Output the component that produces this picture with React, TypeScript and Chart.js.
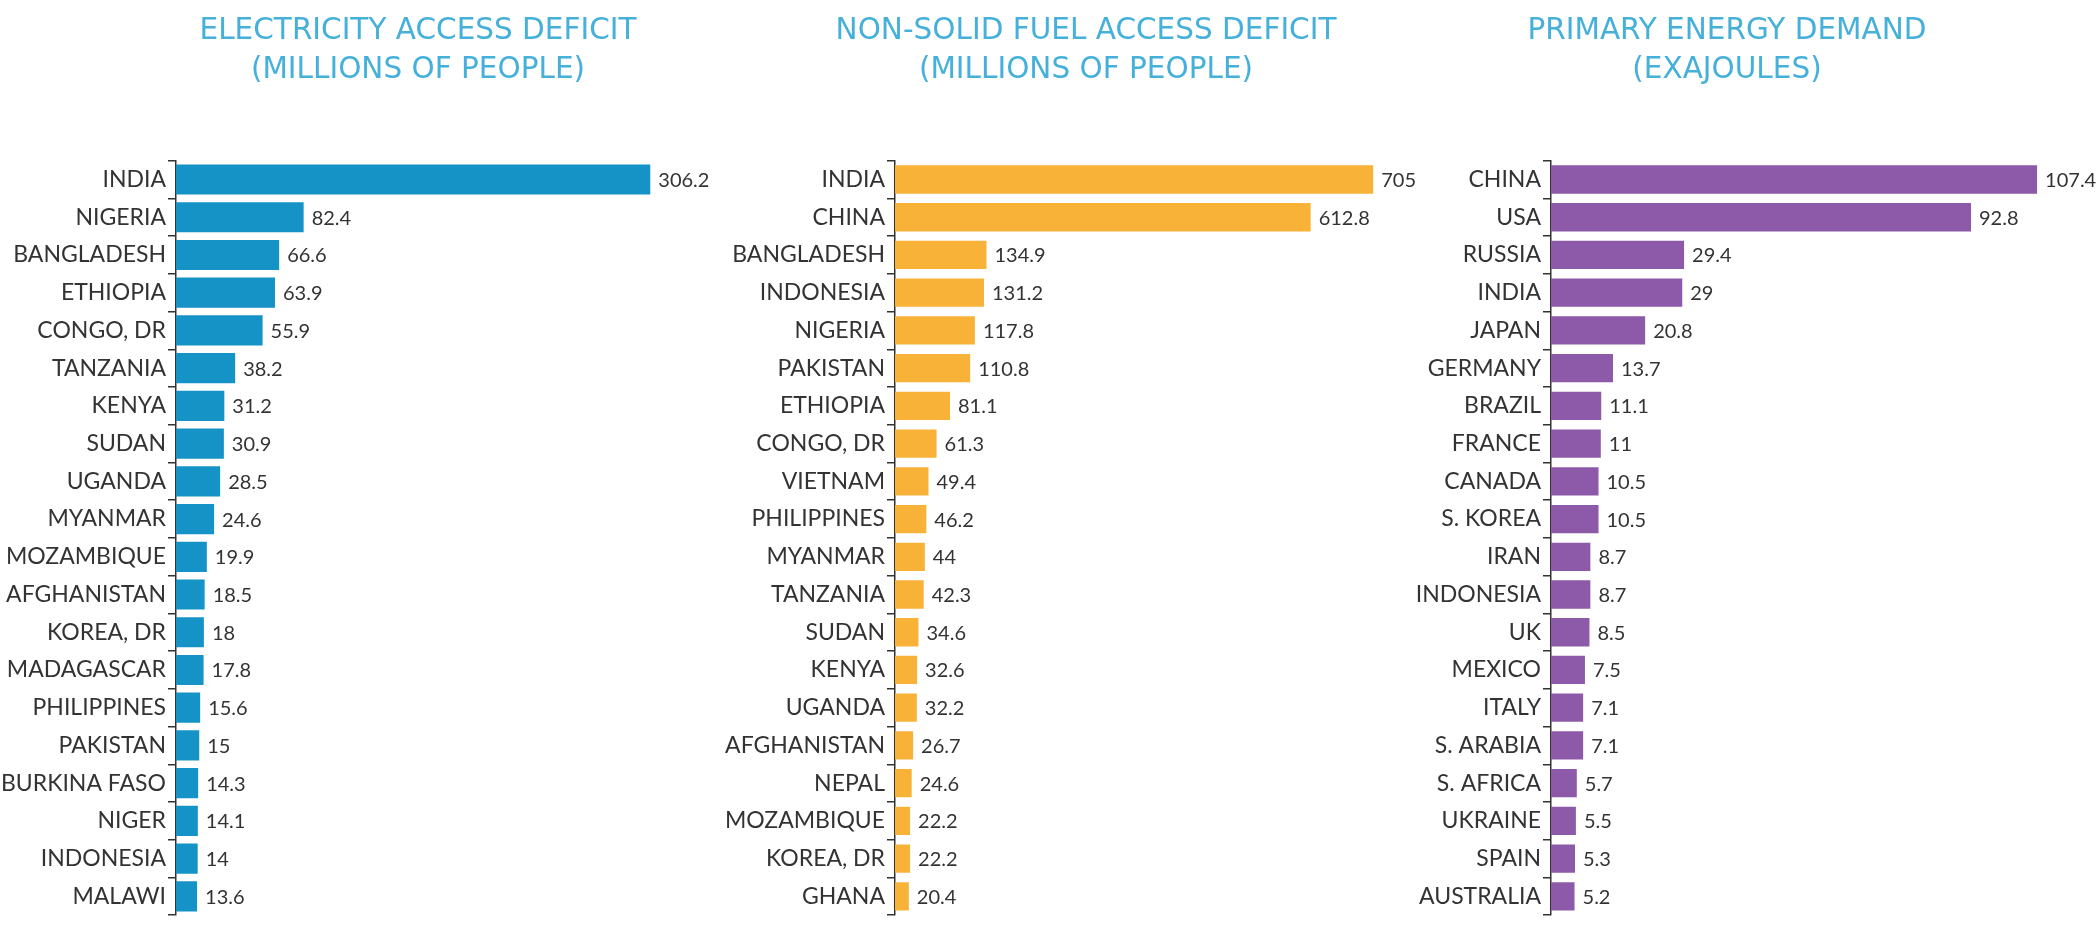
import React, { useEffect, useRef } from "react";
import { Chart, registerables } from "chart.js";

Chart.register(...registerables);

// ---------- DATA ----------
const elecCountries = [
  "INDIA", "NIGERIA", "BANGLADESH", "ETHIOPIA", "CONGO, DR", "TANZANIA", "KENYA", "SUDAN", "UGANDA", "MYANMAR",
  "MOZAMBIQUE", "AFGHANISTAN", "KOREA, DR", "MADAGASCAR", "PHILIPPINES", "PAKISTAN", "BURKINA FASO", "NIGER", "INDONESIA", "MALAWI",
];
const elecValues = [306.2, 82.4, 66.6, 63.9, 55.9, 38.2, 31.2, 30.9, 28.5, 24.6, 19.9, 18.5, 18, 17.8, 15.6, 15, 14.3, 14.1, 14, 13.6];

const fuelCountries = [
  "INDIA", "CHINA", "BANGLADESH", "INDONESIA", "NIGERIA", "PAKISTAN", "ETHIOPIA", "CONGO, DR", "VIETNAM", "PHILIPPINES",
  "MYANMAR", "TANZANIA", "SUDAN", "KENYA", "UGANDA", "AFGHANISTAN", "NEPAL", "MOZAMBIQUE", "KOREA, DR", "GHANA",
];
const fuelValues = [705, 612.8, 134.9, 131.2, 117.8, 110.8, 81.1, 61.3, 49.4, 46.2, 44, 42.3, 34.6, 32.6, 32.2, 26.7, 24.6, 22.2, 22.2, 20.4];

const energyCountries = [
  "CHINA", "USA", "RUSSIA", "INDIA", "JAPAN", "GERMANY", "BRAZIL", "FRANCE", "CANADA", "S. KOREA",
  "IRAN", "INDONESIA", "UK", "MEXICO", "ITALY", "S. ARABIA", "S. AFRICA", "UKRAINE", "SPAIN", "AUSTRALIA",
];
const energyValues = [107.4, 92.8, 29.4, 29, 20.8, 13.7, 11.1, 11, 10.5, 10.5, 8.7, 8.7, 8.5, 7.5, 7.1, 7.1, 5.7, 5.5, 5.3, 5.2];

const elecTitle = ["ELECTRICITY ACCESS DEFICIT", "(MILLIONS OF PEOPLE)"];
const fuelTitle = ["NON-SOLID FUEL ACCESS DEFICIT", "(MILLIONS OF PEOPLE)"];
const energyTitle = ["PRIMARY ENERGY DEMAND", "(EXAJOULES)"];

// ---------- STYLE ----------
const FONT = "Lato, 'Noto Sans', sans-serif";
const TITLE_FONT = "'DejaVu Sans', Lato, sans-serif";
const TEXT = "#333333";
const TITLE_COLOR = "#45B0DA";

const valueLabelPlugin = {
  id: "valueLabels",
  afterDatasetsDraw(chart: any) {
    const ctx = chart.ctx;
    const ds = chart.data.datasets[0];
    const meta = chart.getDatasetMeta(0);
    ctx.save();
    ctx.font = `400 20px ${FONT}`;
    ctx.fillStyle = TEXT;
    ctx.textAlign = "left";
    ctx.textBaseline = "middle";
    meta.data.forEach((bar: any, i: number) => {
      ctx.fillText(String(ds.data[i]), bar.x + 8, bar.y + 1);
    });
    ctx.restore();
  },
};

type PanelProps = {
  left: number;
  width: number;
  axisWidth: number;
  max: number;
  barPct: number;
  labels: string[];
  values: number[];
  color: string;
  title: string[];
};

function Panel({ left, width, axisWidth, max, barPct, labels, values, color, title }: PanelProps) {
  const ref = useRef<HTMLCanvasElement | null>(null);
  useEffect(() => {
    if (!ref.current) return;
    const chart = new Chart(ref.current, {
      type: "bar",
      data: {
        labels,
        datasets: [
          {
            data: values,
            backgroundColor: color,
            borderWidth: 0,
            barPercentage: barPct,
            categoryPercentage: 1,
          },
        ],
      },
      options: {
        indexAxis: "y",
        responsive: false,
        animation: false,
        layout: { padding: { top: 0, bottom: 3, left: 0, right: 0 } },
        plugins: {
          legend: { display: false },
          tooltip: { enabled: false },
          title: {
            display: true,
            text: title,
            color: TITLE_COLOR,
            font: { family: TITLE_FONT, size: 29.5, weight: "400", lineHeight: 1.35 },
            padding: { top: 11, bottom: 70 },
          },
        },
        scales: {
          x: { display: false, min: 0, max },
          y: {
            afterFit: (scale: any) => {
              scale.width = axisWidth;
            },
            grid: {
              offset: true,
              drawOnChartArea: false,
              drawTicks: true,
              tickLength: 8,
              color: "#333333",
              lineWidth: 1.5,
            },
            border: { display: true, color: "#333333", width: 1.5 },
            ticks: {
              autoSkip: false,
              padding: 2,
              color: TEXT,
              font: { family: FONT, size: 23, weight: "400" },
            },
          },
        },
      },
      plugins: [valueLabelPlugin],
    });
    return () => chart.destroy();
  }, []);
  return (
    <div style={{ position: "absolute", left, top: 0, width, height: 931 }}>
      <canvas ref={ref} width={width} height={931} />
    </div>
  );
}

export default function App() {
  useEffect(() => {
    document.body.style.margin = "0";
  }, []);
  return (
    <div style={{ position: "absolute", left: 0, top: 0, width: 2100, height: 931, background: "#ffffff", overflow: "hidden" }}>
      <Panel left={0} width={836} axisWidth={176} max={426.1} barPct={0.8} labels={elecCountries} values={elecValues} color="#1592C6" title={elecTitle} />
      <Panel left={700} width={772} axisWidth={195} max={850.7} barPct={0.75} labels={fuelCountries} values={fuelValues} color="#F8B238" title={fuelTitle} />
      <Panel left={1354} width={746} axisWidth={197} max={121.3} barPct={0.75} labels={energyCountries} values={energyValues} color="#8C5AA8" title={energyTitle} />
    </div>
  );
}
